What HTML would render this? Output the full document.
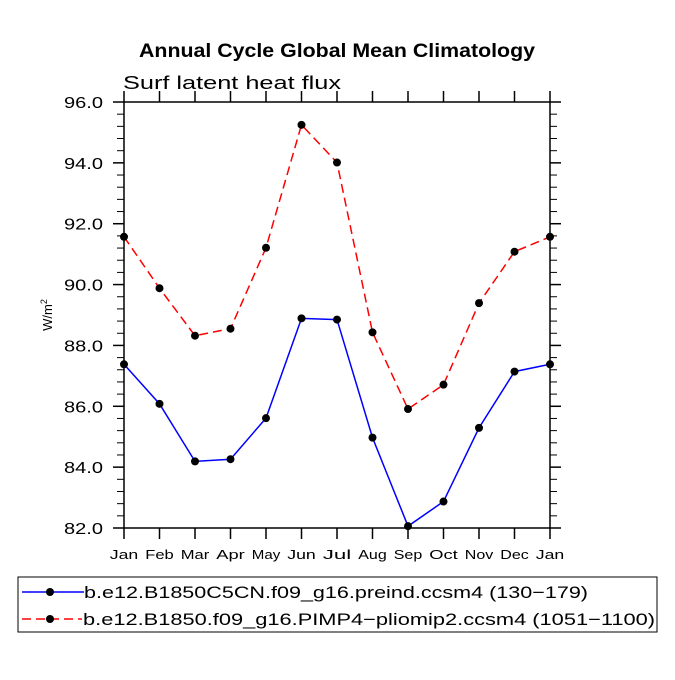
<!DOCTYPE html>
<html><head><meta charset="utf-8"><style>
body{margin:0;background:#fff}
svg text{font-family:"Liberation Sans",sans-serif}
</style></head><body>
<svg id="chart" width="675" height="675">
<text x="139" y="57" font-size="19" font-weight="bold" textLength="396" lengthAdjust="spacingAndGlyphs">Annual Cycle Global Mean Climatology</text>
<text x="123" y="89" font-size="18" textLength="218" lengthAdjust="spacingAndGlyphs">Surf latent heat flux</text>
<text transform="translate(52,315) rotate(-90)" text-anchor="middle" font-size="13">W/m<tspan dy="-5" font-size="9">2</tspan></text>
<rect x="124" y="102" width="426" height="426" fill="none" stroke="#000" stroke-width="1.5"/>
<g id="ticks"></g><g id="series"></g>
<g>
<rect x="18" y="577" width="639" height="55" fill="none" stroke="#000" stroke-width="1"/>
<line x1="22" y1="592" x2="84" y2="592" stroke="#0000ff" stroke-width="1.5"/>
<circle cx="50" cy="592" r="4"/>
<text x="84" y="598" font-size="17" textLength="504" lengthAdjust="spacingAndGlyphs">b.e12.B1850C5CN.f09_g16.preind.ccsm4 (130−179)</text>
<line x1="22" y1="619" x2="82" y2="619" stroke="#ff0000" stroke-width="1.5" stroke-dasharray="9,5"/>
<circle cx="50" cy="619" r="4"/>
<text x="83" y="625" font-size="17" textLength="572" lengthAdjust="spacingAndGlyphs">b.e12.B1850.f09_g16.PIMP4−pliomip2.ccsm4 (1051−1100)</text>
</g>
</svg>
<script>
const months=["Jan","Feb","Mar","Apr","May","Jun","Jul","Aug","Sep","Oct","Nov","Dec","Jan"];
const preind=[87.38,86.08,84.19,84.26,85.61,88.89,88.85,84.97,82.06,82.87,85.29,87.14,87.38];
const pliomip=[91.57,89.88,88.32,88.55,91.21,95.25,94.01,88.43,85.91,86.71,89.39,91.08,91.57];
const yTicks=[82,84,86,88,90,92,94,96];
const yMin=82,yMax=96,L=124,R=550,T=102,B=528;
const NS="http://www.w3.org/2000/svg";
const xs=i=>L+(R-L)*i/(months.length-1);
const ys=v=>B-(B-T)*(v-yMin)/(yMax-yMin);
const tk=document.getElementById('ticks'),sr=document.getElementById('series');
function mk(t,a,p){const e=document.createElementNS(NS,t);for(const k in a)e.setAttribute(k,a[k]);p.appendChild(e);return e;}
months.forEach((m,i)=>{
 const x=xs(i);
 const l1=mk('line',{x1:x,y1:B,x2:x,y2:B+11,stroke:'#000','stroke-width':1.5},tk);
 
 
 const l2=mk('line',{x1:x,y1:T,x2:x,y2:T-11,stroke:'#000','stroke-width':1.5},tk);
 
 
 const t=mk('text',{x:x,y:B+31,'text-anchor':'middle','font-size':13,textLength:m.length*9.5,lengthAdjust:'spacingAndGlyphs'},tk);t.textContent=m;
 
 
});
for(let v=yMin;v<=yMax+1e-9;v+=0.4){
 const y=ys(v);const maj=Math.abs(v-Math.round(v))<1e-6&&Math.round(v)%2===0;const len=maj?11:7;
 const a=mk('line',{x1:L,y1:y,x2:L-len,y2:y,stroke:'#000','stroke-width':maj?1.5:1},tk);
 
 
 const b=mk('line',{x1:R,y1:y,x2:R+len,y2:y,stroke:'#000','stroke-width':maj?1.5:1},tk);
 
 
}
yTicks.forEach(v=>{
 const t=mk('text',{x:64,y:ys(v)+6,'font-size':16,textLength:39,lengthAdjust:'spacingAndGlyphs'},tk);t.textContent=v.toFixed(1);
 
 
});
function draw(data,color,dash,name){
 const p=mk('polyline',{points:data.map((v,i)=>xs(i)+','+ys(v)).join(' '),fill:'none',stroke:color,'stroke-width':1.5,'stroke-dasharray':dash},sr);
 
 
 data.forEach((v,i)=>{const c=mk('circle',{cx:xs(i),cy:ys(v),r:4,fill:'#000'},sr);
 
 });
}
draw(preind,'#0000ff','none','preind');
draw(pliomip,'#ff0000','9,5','pliomip');
</script>
</body></html>
